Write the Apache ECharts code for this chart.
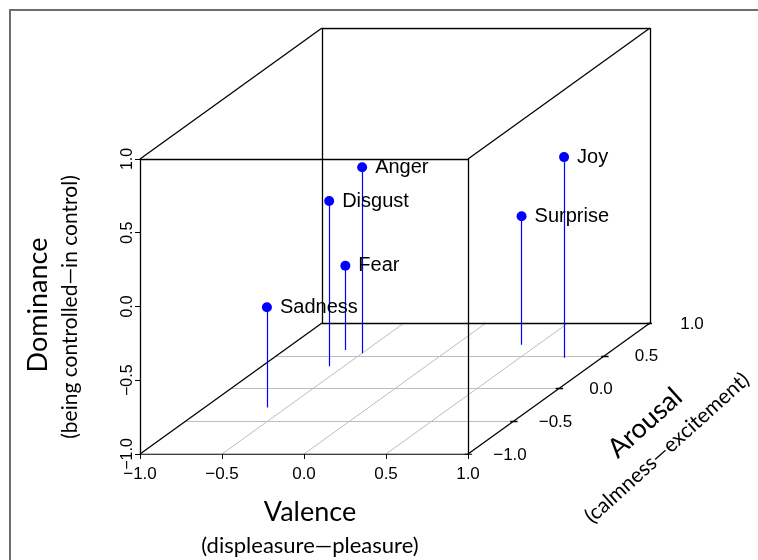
<!DOCTYPE html>
<html>
<head>
<meta charset="utf-8">
<script src="https://cdn.jsdelivr.net/npm/echarts@6/dist/echarts.min.js"></script>
<style>
  html, body { margin: 0; padding: 0; background: #fff; }
  #chart { width: 758px; height: 560px; }
</style>
</head>
<body>
<div id="chart"></div>
<script>
// PAD values of the six basic emotions
const emotions = ['Joy', 'Sadness', 'Surprise', 'Fear', 'Anger', 'Disgust'];
const valence = [0.77, -0.62, 0.40, -0.63, -0.50, -0.59];
const arousal = [0.47, -0.29, 0.67, 0.59, 0.54, 0.34];
const dominance = [0.36, -0.32, -0.13, -0.43, 0.26, 0.12];

// tick values, same on all three axes
const valenceTicks = [-1, -0.5, 0, 0.5, 1];
const arousalTicks = [-1, -0.5, 0, 0.5, 1];
const dominanceTicks = [-1, -0.5, 0, 0.5, 1];
const gridSteps = [-0.5, 0, 0.5];

// oblique projection: arousal goes back to the upper right
const KX = 91 / 164;
const KY = 65.5 / 147.6;
const proj = (v, a, d) => [v + (a + 1) * KX, d + (a + 1) * KY];
const seg = (p, q) => ({ coords: [proj(...p), proj(...q)] });

const tickText = v => (v < 0 ? '\u2212' : '') + Math.abs(v).toFixed(1);

// 12 edges of the box
const edges = [];
[-1, 1].forEach(s => {
  [-1, 1].forEach(t => {
    edges.push(seg([-1, s, t], [1, s, t]));   // along valence
    edges.push(seg([s, -1, t], [s, 1, t]));   // along arousal
    edges.push(seg([s, t, -1], [s, t, 1]));   // along dominance
  });
});

// floor grid
const floorLines = [];
gridSteps.forEach(g => {
  floorLines.push(seg([-1, g, -1], [1, g, -1]));
  floorLines.push(seg([g, -1, -1], [g, 1, -1]));
});

const arousalTickLines = arousalTicks.map(a => seg([0.98, a, -1], [1.025, a, -1]));
const stems = emotions.map((n, i) => seg([valence[i], arousal[i], dominance[i]], [valence[i], arousal[i], -1]));

const tickFont = '"Liberation Sans", Arial, sans-serif';
const titleFont = 'Lato, "Open Sans", sans-serif';

const chart = echarts.init(document.getElementById('chart'));

const option = {
  animation: false,
  grid: { left: 140, right: 108, top: 28, bottom: 106, outerBoundsMode: 'none' },
  xAxis: {
    type: 'value',
    min: -1,
    max: 1 + 2 * KX,
    axisLine: { show: false, onZero: false },
    splitLine: { show: false },
    axisTick: { show: true, customValues: valenceTicks, length: 5, lineStyle: { color: '#000' } },
    axisLabel: {
      customValues: valenceTicks,
      formatter: tickText,
      margin: 12,
      fontSize: 17,
      fontFamily: tickFont,
      color: '#000'
    }
  },
  yAxis: {
    type: 'value',
    min: -1,
    max: 1 + 2 * KY,
    axisLine: { show: false, onZero: false },
    splitLine: { show: false },
    axisTick: { show: true, customValues: dominanceTicks, length: 5, lineStyle: { color: '#000' } },
    axisLabel: {
      customValues: dominanceTicks,
      formatter: tickText,
      rotate: 90,
      margin: 4,
      fontSize: 16,
      fontFamily: tickFont,
      color: '#000'
    }
  },
  graphic: [
    {
      type: 'rect',
      shape: { x: 10, y: 10, width: 900, height: 700 },
      style: { fill: 'none', stroke: '#6e6e6e', lineWidth: 2 },
      silent: true
    },
    {
      type: 'text', x: 310, y: 512,
      style: { text: 'Valence', font: '27px ' + titleFont, fill: '#000', textAlign: 'center', textVerticalAlign: 'middle' }
    },
    {
      type: 'text', x: 310, y: 546,
      style: { text: '(displeasure\u2014pleasure)', font: '22px ' + titleFont, fill: '#000', textAlign: 'center', textVerticalAlign: 'middle' }
    },
    {
      type: 'text', x: 38, y: 305, rotation: Math.PI / 2,
      style: { text: 'Dominance', font: '27px ' + titleFont, fill: '#000', textAlign: 'center', textVerticalAlign: 'middle' }
    },
    {
      type: 'text', x: 70, y: 307, rotation: Math.PI / 2,
      style: { text: '(being controlled\u2014in control)', font: '21px ' + titleFont, fill: '#000', textAlign: 'center', textVerticalAlign: 'middle' }
    },
    {
      type: 'text', x: 645, y: 423, rotation: 42 * Math.PI / 180,
      style: { text: 'Arousal', font: '27px ' + titleFont, fill: '#000', textAlign: 'center', textVerticalAlign: 'middle' }
    },
    {
      type: 'text', x: 667, y: 448, rotation: 42 * Math.PI / 180,
      style: { text: '(calmness\u2014excitement)', font: '21px ' + titleFont, fill: '#000', textAlign: 'center', textVerticalAlign: 'middle' }
    }
  ],
  series: [
    {
      type: 'lines',
      coordinateSystem: 'cartesian2d',
      silent: true,
      z: 1,
      lineStyle: { color: '#bdbdbd', width: 1, opacity: 1 },
      data: floorLines
    },
    {
      type: 'lines',
      coordinateSystem: 'cartesian2d',
      silent: true,
      z: 2,
      lineStyle: { color: '#000', width: 1.3, opacity: 1 },
      data: edges.concat(arousalTickLines)
    },
    {
      type: 'lines',
      coordinateSystem: 'cartesian2d',
      silent: true,
      z: 3,
      lineStyle: { color: '#0000ff', width: 1.2, opacity: 1 },
      data: stems
    },
    {
      type: 'scatter',
      z: 4,
      symbol: 'circle',
      symbolSize: 10,
      itemStyle: { color: '#0000ff', opacity: 1 },
      label: {
        show: true,
        position: 'right',
        distance: 8,
        formatter: p => p.name,
        fontSize: 20,
        fontFamily: tickFont,
        color: '#000'
      },
      data: emotions.map((n, i) => ({ name: n, value: proj(valence[i], arousal[i], dominance[i]) }))
    },
    {
      type: 'scatter',
      z: 4,
      symbolSize: 0,
      silent: true,
      itemStyle: { opacity: 1 },
      label: {
        show: true,
        position: 'inside',
        offset: [42, 1],
        formatter: p => tickText(p.data.a),
        fontSize: 17,
        fontFamily: tickFont,
        color: '#000'
      },
      data: arousalTicks.map(a => ({ a: a, value: proj(1, a, -1) }))
    }
  ]
};

chart.setOption(option);
</script>
</body>
</html>
